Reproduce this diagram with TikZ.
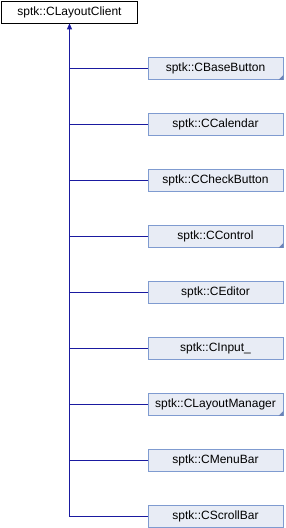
\documentclass[tikz,border=0pt]{standalone}
\usepackage{fontspec}
\setmainfont{Liberation Sans}
\usetikzlibrary{arrows.meta,positioning}
\definecolor{boxfill}{HTML}{E8ECF5}
\definecolor{boxline}{HTML}{7F9BD0}
\definecolor{linkblue}{HTML}{1A1AA0}
\definecolor{cornerfill}{HTML}{6C84B8}

\begin{document}
\begin{tikzpicture}[
  x=1pt,y=-1pt,
  font=\fontsize{12}{14}\selectfont,
  base/.style={draw=black,fill=white,line width=0.8pt,minimum width=136pt,minimum height=22pt,inner sep=0pt},
  box/.style={draw=boxline,fill=boxfill,line width=0.8pt,minimum width=135pt,minimum height=22pt,inner sep=0pt},
  link/.style={draw=linkblue,line width=0.9pt},
  arr/.style={link,-{Triangle[length=6pt,width=5pt]}},
  corner/.style={fill=cornerfill}
]
\useasboundingbox (0,0) rectangle (286,528);
\node[base] (client) at (69.5,12) {sptk::CLayoutClient};
\node[box] (basebutton) at (215.5,68.5) {sptk::CBaseButton};
\node[box,below=33.2pt of basebutton] (calendar) {sptk::CCalendar};
\node[box,below=33.2pt of calendar] (checkbutton) {sptk::CCheckButton};
\node[box,below=33.2pt of checkbutton] (control) {sptk::CControl};
\node[box,below=33.2pt of control] (editor) {sptk::CEditor};
\node[box,below=33.2pt of editor] (input) {sptk::CInput\_};
\node[box,below=33.2pt of input] (layoutmanager) {sptk::CLayoutManager};
\node[box,below=33.2pt of layoutmanager] (menubar) {sptk::CMenuBar};
\node[box,below=33.2pt of menubar] (scrollbar) {sptk::CScrollBar};
% marks for classes with further children
\fill[corner] (basebutton.south east) -- ++(-5,0) -- ++(5,-5) -- cycle;
\fill[corner] (control.south east) -- ++(-5,0) -- ++(5,-5) -- cycle;
\fill[corner] (layoutmanager.south east) -- ++(-5,0) -- ++(5,-5) -- cycle;
\draw[arr] (scrollbar.west) -| (client.south);
\draw[link] (basebutton.west) -- (basebutton.west -| client.south);
\draw[link] (calendar.west) -- (calendar.west -| client.south);
\draw[link] (checkbutton.west) -- (checkbutton.west -| client.south);
\draw[link] (control.west) -- (control.west -| client.south);
\draw[link] (editor.west) -- (editor.west -| client.south);
\draw[link] (input.west) -- (input.west -| client.south);
\draw[link] (layoutmanager.west) -- (layoutmanager.west -| client.south);
\draw[link] (menubar.west) -- (menubar.west -| client.south);
\end{tikzpicture}
\end{document}
